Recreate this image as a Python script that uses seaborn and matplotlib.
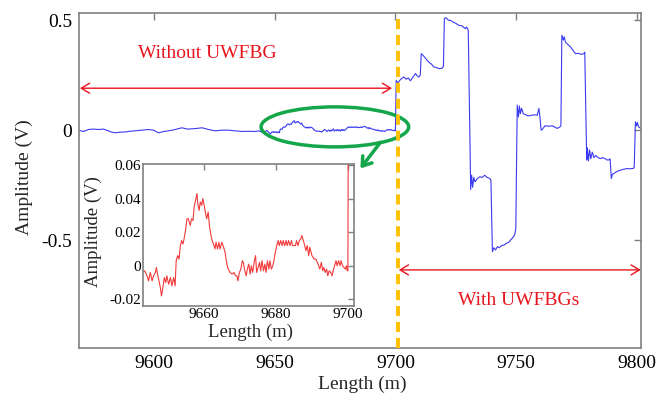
import numpy as np
import pandas as pd
import matplotlib
matplotlib.use("Agg")
import matplotlib.pyplot as plt
from matplotlib.patches import Ellipse
import seaborn as sns

# ---------------- data ----------------
# fibre section before the gratings (coarse trace)
pre_x = [9568.5, 9570.7, 9572.7, 9574.8, 9576.9, 9579.0, 9581.0, 9582.4, 9583.8, 9585.9,
         9588.0, 9590.0, 9592.1, 9594.9, 9597.6, 9599.7, 9601.8, 9603.9, 9605.9, 9608.7,
         9611.5, 9613.6, 9615.6, 9617.7, 9619.8, 9622.5, 9625.3, 9628.1, 9630.8, 9633.6,
         9636.4, 9639.1, 9641.9]
pre_amp = [0.000, -0.006, 0.003, 0.005, 0.003, 0.005, -0.003, -0.009, -0.012, -0.009,
           -0.008, -0.005, -0.003, 0.000, 0.003, 0.000, -0.012, -0.006, -0.003, 0.003,
           0.011, 0.005, 0.006, 0.008, 0.011, 0.003, -0.003, 0.000, 0.000, -0.003,
           -0.006, -0.005, -0.006]

# zoomed section (shown in the inset)
zoom_x = [9643.4, 9644.1, 9644.5, 9645.0, 9645.5, 9645.9, 9646.4, 9646.7, 9647.0, 9647.4,
          9647.8, 9648.1, 9648.5, 9648.9, 9649.3, 9649.6, 9650.1, 9650.6, 9651.0, 9651.5,
          9651.9, 9652.2, 9652.6, 9653.0, 9653.3, 9653.7, 9654.1, 9654.4, 9654.8, 9655.2,
          9655.6, 9656.1, 9656.5, 9656.9, 9657.2, 9657.6, 9658.0, 9658.2, 9658.6, 9658.9,
          9659.3, 9659.6, 9660.0, 9660.4, 9660.7, 9661.1, 9661.5, 9661.9, 9662.2, 9662.6,
          9663.0, 9663.3, 9663.7, 9664.1, 9664.4, 9664.9, 9665.4, 9665.8, 9666.3, 9666.7,
          9667.2, 9667.8, 9668.3, 9668.7, 9669.1, 9669.4, 9669.8, 9670.2, 9670.6, 9670.9,
          9671.3, 9671.7, 9672.0, 9672.4, 9672.8, 9673.1, 9673.5, 9673.9, 9674.3, 9674.6,
          9675.0, 9675.4, 9675.7, 9676.1, 9676.5, 9676.9, 9677.2, 9677.6, 9678.0, 9678.3,
          9678.7, 9679.1, 9679.4, 9679.8, 9680.2, 9680.6, 9680.9, 9681.3, 9681.7, 9682.0,
          9682.4, 9682.8, 9683.1, 9683.5, 9683.9, 9684.3, 9684.6, 9685.0, 9685.4, 9685.7,
          9686.1, 9686.5, 9686.9, 9687.2, 9687.6, 9688.0, 9688.3, 9688.7, 9689.1, 9689.4,
          9690.0, 9690.6, 9691.1, 9691.7, 9692.2, 9692.6, 9693.0, 9693.3, 9693.7, 9694.1,
          9694.4, 9694.8, 9695.2, 9695.6, 9695.9, 9696.3, 9696.7, 9697.0, 9697.4, 9697.8,
          9698.1, 9698.5, 9698.9, 9699.3, 9699.6, 9699.8, 9700.0]
zoom_amp = [-0.003, -0.006, -0.009, -0.004, -0.009, -0.006, -0.004, -0.001, -0.005, -0.009,
            -0.013, -0.018, -0.013, -0.007, -0.010, -0.006, -0.011, -0.007, -0.012, -0.007,
            -0.012, 0.003, 0.006, 0.004, 0.011, 0.015, 0.013, 0.016, 0.021, 0.028,
            0.028, 0.024, 0.028, 0.027, 0.035, 0.039, 0.043, 0.037, 0.033, 0.038,
            0.036, 0.040, 0.036, 0.031, 0.028, 0.032, 0.023, 0.018, 0.015, 0.013,
            0.010, 0.014, 0.010, 0.014, 0.010, 0.014, 0.011, 0.008, 0.001, -0.002,
            -0.004, -0.005, -0.004, -0.006, -0.006, -0.009, -0.004, -0.002, 0.003, 0.002,
            -0.003, -0.006, -0.002, 0.001, -0.005, 0.000, -0.004, 0.002, 0.006, -0.004,
            -0.001, 0.002, -0.003, 0.003, -0.003, 0.001, -0.004, 0.003, -0.002, 0.003,
            -0.002, 0.000, 0.003, 0.008, 0.012, 0.015, 0.012, 0.015, 0.012, 0.015,
            0.012, 0.015, 0.012, 0.015, 0.012, 0.015, 0.012, 0.012, 0.012, 0.015,
            0.012, 0.015, 0.016, 0.018, 0.015, 0.012, 0.009, 0.012, 0.006, 0.011,
            0.006, 0.004, 0.004, 0.001, -0.002, 0.002, -0.003, -0.001, -0.004, -0.002,
            -0.006, -0.003, -0.004, -0.006, -0.003, 0.000, 0.003, 0.000, 0.003, 0.000,
            0.003, 0.000, -0.001, -0.002, 0.000, -0.003, -0.003]

# section with the UWFBGs
post_x = [9700.3, 9701.0, 9701.8, 9702.6, 9703.5, 9704.5, 9705.3, 9706.2, 9707.2, 9708.3,
          9709.0, 9709.7, 9710.3, 9710.7, 9711.5, 9712.3, 9713.1, 9714.0, 9715.0, 9715.9,
          9717.0, 9718.2, 9719.3, 9719.9, 9720.3, 9721.0, 9722.0, 9722.8, 9724.0, 9725.2,
          9726.3, 9727.5, 9729.0, 9729.5, 9730.2, 9731.2, 9731.6, 9732.0, 9732.5, 9733.0,
          9734.0, 9735.0, 9736.0, 9737.0, 9738.0, 9739.2, 9739.6, 9740.2, 9740.8, 9741.5,
          9742.3, 9743.0, 9744.0, 9745.0, 9746.0, 9747.0, 9747.7, 9748.6, 9749.4, 9749.9,
          9750.5, 9751.0, 9751.4, 9751.8, 9752.3, 9753.0, 9754.0, 9755.0, 9756.5, 9758.0,
          9758.8, 9759.5, 9759.9, 9760.4, 9761.0, 9762.0, 9763.5, 9765.0, 9767.1, 9768.2,
          9768.6, 9769.0, 9769.6, 9770.0, 9770.5, 9771.5, 9772.6, 9773.5, 9774.7, 9776.0,
          9777.0, 9778.1, 9778.5, 9779.3, 9779.6, 9780.0, 9780.5, 9781.0, 9781.6, 9782.3,
          9783.0, 9784.0, 9785.0, 9786.0, 9787.0, 9787.8, 9788.6, 9789.0, 9789.5, 9790.0,
          9790.6, 9791.5, 9792.5, 9793.4, 9794.5, 9795.5, 9796.1, 9797.0, 9798.6, 9799.0,
          9799.5, 9800.0, 9800.3, 9800.8, 9801.5, 9802.3]
post_amp = [0.227, 0.215, 0.227, 0.235, 0.242, 0.232, 0.238, 0.225, 0.240, 0.258,
            0.248, 0.242, 0.250, 0.348, 0.340, 0.330, 0.318, 0.308, 0.300, 0.288,
            0.285, 0.280, 0.282, 0.290, 0.508, 0.512, 0.500, 0.500, 0.492, 0.485,
            0.477, 0.475, 0.462, 0.470, 0.455, -0.270, -0.205, -0.260, -0.215, -0.235,
            -0.220, -0.212, -0.215, -0.205, -0.215, -0.220, -0.230, -0.553, -0.535, -0.545,
            -0.530, -0.535, -0.525, -0.523, -0.515, -0.510, -0.500, -0.490, -0.477, -0.450,
            0.114, 0.060, 0.110, 0.075, 0.100, 0.075, 0.070, 0.065, 0.068, 0.070,
            0.068, 0.099, 0.060, 0.000, 0.005, 0.020, 0.018, 0.020, 0.008, 0.015,
            0.020, 0.432, 0.410, 0.425, 0.400, 0.390, 0.379, 0.365, 0.348, 0.350,
            0.345, 0.348, 0.355, -0.136, -0.080, -0.140, -0.090, -0.130, -0.100, -0.125,
            -0.115, -0.125, -0.129, -0.125, -0.130, -0.136, -0.135, -0.130, -0.220, -0.200,
            -0.197, -0.190, -0.185, -0.182, -0.178, -0.176, -0.174, -0.176, -0.174, -0.170,
            0.038, 0.020, 0.035, 0.015, 0.010, 0.008]

main_xticks = [9600, 9650, 9700, 9750, 9800]
main_yticks = [-0.5, 0.0, 0.5]
main_yticklabels = ["-0.5", "0", "0.5"]
inset_xticks = [9660, 9680, 9700]
inset_yticks = [-0.02, 0.0, 0.02, 0.04, 0.06]
inset_yticklabels = ["-0.02", "0", "0.02", "0.04", "0.06"]

label_without = "Without UWFBG"
label_with = "With UWFBGs"
boundary_x = 9701.1

# ---------------- style ----------------
sns.set_theme(style="white")
plt.rcParams["font.family"] = ["Liberation Serif", "DejaVu Serif"]
plt.rcParams["axes.unicode_minus"] = False

BLUE = "#3a3af2"
RED_LINE = "#f23a3a"
RED_TXT = "#e8141e"
GREEN = "#14a64a"
ORANGE = "#ffc000"
GREY = "#808080"

df = pd.DataFrame({
    "Length": pre_x + zoom_x + post_x,
    "Amplitude": pre_amp + zoom_amp + post_amp,
})

fig = plt.figure(figsize=(6.57, 3.99), dpi=100)
ax = fig.add_axes([0.1202, 0.1286, 0.8554, 0.8381])

sns.lineplot(data=df, x="Length", y="Amplitude", ax=ax, color=BLUE, lw=0.8,
             estimator=None, sort=False, zorder=2)

ax.set_xlim(9568.8, 9801.8)
ax.set_ylim(-0.99, 0.532)
ax.set_xticks(main_xticks)
ax.set_xticklabels([str(t) for t in main_xticks])
ax.set_yticks(main_yticks)
ax.set_yticklabels(main_yticklabels)
ax.tick_params(direction="in", length=5, width=1, colors=GREY, labelcolor="black",
               top=True, right=True, labelsize=14, pad=5)
for s in ax.spines.values():
    s.set_visible(True)
    s.set_color(GREY)
    s.set_linewidth(1.2)
ax.set_xlabel("Length (m)", fontsize=14)
ax.set_ylabel("Amplitude (V)", fontsize=14)
ax.xaxis.set_label_coords(0.505, -0.083)
ax.yaxis.set_label_coords(-0.082, 0.509)

# boundary line
ax.axvline(boundary_x, color=ORANGE, lw=2.8, ls=(0, (2.6, 1.5)), zorder=5)

# red range arrows + texts
ax.annotate("", xy=(9569.2, 0.191), xytext=(9698.6, 0.191),
            arrowprops=dict(arrowstyle="<->,head_length=0.5,head_width=0.3", color=RED_TXT,
                            lw=1.0, mutation_scale=12, shrinkA=0, shrinkB=0))
ax.text(9622.2, 0.349, label_without, color=RED_TXT, fontsize=14, ha="center", va="center")
ax.annotate("", xy=(9701.4, -0.636), xytext=(9801.7, -0.636),
            arrowprops=dict(arrowstyle="<->,head_length=0.5,head_width=0.3", color=RED_TXT,
                            lw=1.0, mutation_scale=12, shrinkA=0, shrinkB=0))
ax.text(9751.0, -0.773, label_with, color=RED_TXT, fontsize=14, ha="center", va="center")

# green ellipse and arrow
ax.add_patch(Ellipse((9674.9, 0.015), 61.2, 0.182, fill=False, edgecolor=GREEN,
                     lw=2.5, zorder=4))
ax.annotate("", xy=(9685.5, -0.174), xytext=(9693.8, -0.055),
            arrowprops=dict(arrowstyle="->,head_length=0.5,head_width=0.35", color=GREEN,
                            lw=2.5, mutation_scale=12, shrinkA=0, shrinkB=0), zorder=4)

# ---------------- inset ----------------
axi = fig.add_axes([0.2184, 0.2338, 0.3204, 0.3544])
sns.lineplot(data=df, x="Length", y="Amplitude", ax=axi, color=RED_LINE, lw=0.8,
             estimator=None, sort=False)
axi.set_xlim(9643.1, 9701.7)
axi.set_ylim(-0.0238, 0.0604)
axi.set_xticks(inset_xticks)
axi.set_xticklabels([str(t) for t in inset_xticks])
axi.set_yticks(inset_yticks)
axi.set_yticklabels(inset_yticklabels)
axi.tick_params(direction="in", length=4, width=1, colors=GREY, labelcolor="black",
                top=True, right=True, labelsize=11, pad=2)
for s in axi.spines.values():
    s.set_visible(True)
    s.set_color(GREY)
    s.set_linewidth(1.2)
axi.set_xlabel("Length (m)", fontsize=13.5)
axi.set_ylabel("Amplitude (V)", fontsize=13.5)
axi.xaxis.set_label_coords(0.51, -0.13)
axi.yaxis.set_label_coords(-0.197, 0.521)

fig.savefig("out.png", dpi=100)
